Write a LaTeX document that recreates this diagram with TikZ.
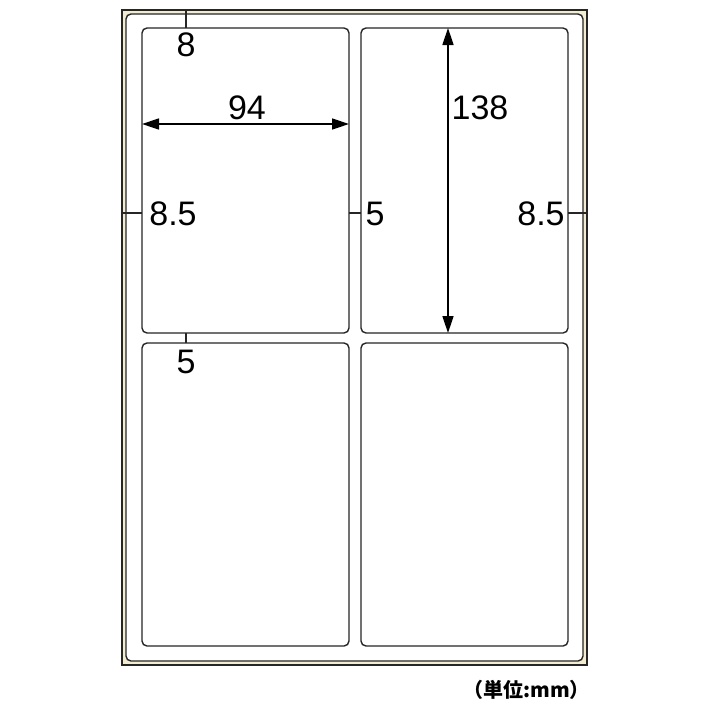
\documentclass[tikz,border=0pt]{standalone}
\usepackage{fontspec}
\setmainfont{Liberation Sans}
\newfontfamily\cjkfont{Noto Sans CJK JP}
\usetikzlibrary{arrows.meta}
\definecolor{beige}{HTML}{F2ECD3}
\definecolor{ink}{HTML}{262626}
\tikzset{
  labelbox/.style={draw=ink, line width=1.4pt, rounded corners=5pt, fill=white, inner sep=0pt, outer sep=0pt, anchor=north west},
  dimtext/.style={inner sep=0pt, outer sep=0pt, font=\fontsize{34}{34}\selectfont, text=black},
  tickline/.style={draw=ink, line width=1.3pt},
  dimarrow/.style={draw=black, line width=1.5pt, {Triangle[length=17pt,width=11pt]}-{Triangle[length=17pt,width=11pt]}},
}
\begin{document}
\begin{tikzpicture}[x=1pt,y=-1pt]
\useasboundingbox (0,0) rectangle (710,710);
% sheet
\node[draw=ink, line width=2pt, fill=beige, inner sep=0pt, outer sep=0pt, anchor=north west, minimum width=465pt, minimum height=655pt] (S) at (122,10) {};
\node[draw=ink, line width=1.4pt, fill=white, rounded corners=5pt, inner sep=0pt, outer sep=0pt, anchor=north west, minimum width=457pt, minimum height=647pt] (SI) at (126,14) {};
% labels
\node[labelbox, minimum width=207pt, minimum height=305pt] (L1) at (142,28) {};
\node[labelbox, minimum width=207pt, minimum height=305pt] (L2) at (361,28) {};
\node[labelbox, minimum width=207pt, minimum height=303pt] (L3) at (142,343) {};
\node[labelbox, minimum width=207pt, minimum height=303pt] (L4) at (361,343) {};
% coordinates for ticks
\coordinate (t8) at (186,10);
\coordinate (tl) at (122,213);
\coordinate (tm) at (349,213);
\coordinate (tr) at (587,213);
\coordinate (tb) at (186,333);
% ticks
\draw[tickline] (t8) -- (t8 |- L1.north);
\draw[tickline] (tl) -- (tl -| L1.west);
\draw[tickline] (tm) -- (tm -| L2.west);
\draw[tickline] (tr) -- (tr -| L2.east);
\draw[tickline] (tb) -- (tb |- L3.north);
% arrows
\coordinate (a94) at (246,124);
\draw[dimarrow] (a94 -| L1.west) -- (a94 -| L1.east);
\coordinate (a138) at (448,100);
\draw[dimarrow] (a138 |- L2.north) -- (a138 |- L2.south);
% texts
\node[dimtext] (n8) at (186,45) {8};
\node[dimtext] (n94) at (247,108) {94};
\node[dimtext] (n138) at (480,108) {138};
\node[dimtext] (nl) at (173,214) {8.5};
\node[dimtext] (nm) at (375,214) {5};
\node[dimtext] (nr) at (541,214) {8.5};
\node[dimtext] (nb) at (186,362) {5};
\node[inner sep=0pt, anchor=east, font=\cjkfont\bfseries\fontsize{20}{20}\selectfont] (unit) at (590,690) {（単位:mm）};
\end{tikzpicture}
\end{document}
